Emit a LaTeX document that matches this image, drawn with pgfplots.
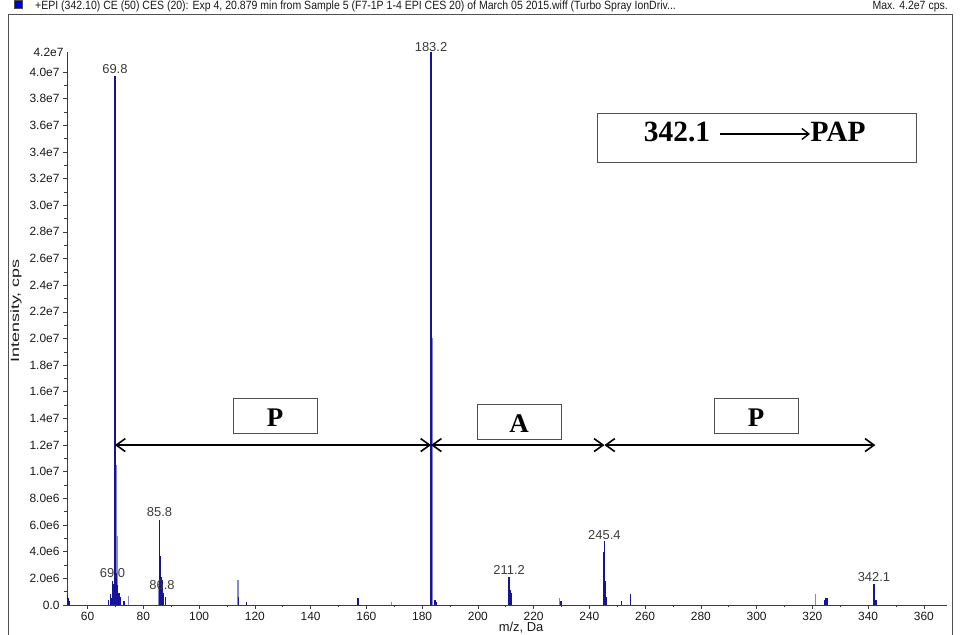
\documentclass[border=0pt]{standalone}
\usepackage{pgfplots}
\pgfplotsset{compat=1.18}
\usepackage{fontspec}
\setmainfont{Liberation Sans}
\newfontfamily\serifb{Liberation Serif}
\newfontfamily\narrow{Liberation Sans}[FakeStretch=0.88]
\newfontfamily\wide{Liberation Sans}[FakeStretch=1.5]
\usetikzlibrary{arrows.meta}
\definecolor{peak}{RGB}{20,20,150}
\definecolor{peaklight}{RGB}{135,135,205}
\definecolor{axgray}{RGB}{60,60,60}
\definecolor{boxgray}{RGB}{80,80,80}
\newcommand{\lbl}{\fontsize{13}{14}\selectfont}

\pgfplotstableread{
mz int
52.7 0.8e6
52.9 0.7e6
53.1 0.5e6
53.3 0.3e6
67.6 0.4e6
68.1 0.8e6
68.6 0.5e6
69.0 1.8e6
69.2 1.6e6
69.8 3.97e7
69.9 3.78e7
70.1 8.5e6
70.4 2.4e6
70.8 1.5e6
71.3 0.9e6
71.8 0.6e6
73.0 0.3e6
85.8 6.4e6
86.0 3.7e6
86.3 2.1e6
86.8 1.9e6
87.2 0.9e6
88.0 0.6e6
114.0 0.6e6
117.0 0.25e6
157.0 0.55e6
183.2 4.15e7
184.6 0.4e6
185.0 0.2e6
211.2 2.1e6
211.6 1.1e6
212.0 0.9e6
229.8 0.3e6
245.0 4.0e6
245.4 4.8e6
245.7 1.8e6
246.0 0.6e6
251.5 0.3e6
254.8 0.8e6
324.3 0.4e6
324.7 0.5e6
325.2 0.5e6
342.1 1.6e6
342.4 0.7e6
342.8 0.4e6
}\darkpeaks

\pgfplotstableread{
mz int
70.2 1.05e7
70.5 5.2e6
74.7 0.7e6
85.4 1.4e6
113.9 1.85e6
169.0 0.25e6
183.5 2.0e7
183.8 1.08e7
210.9 0.6e6
229.2 0.5e6
321.0 0.8e6
}\lightpeaks

\begin{document}
\begin{tikzpicture}[x=1bp,y=1bp]
\useasboundingbox (-67,-30) rectangle (894,605);
% outer frame
\draw[boxgray, line width=0.9bp] (-59,-40) -- (-59,591) -- (885,591) -- (885,-40);
% title line
\fill[blue!85!black] (-53,597) rectangle (-45,605);
\draw[black!70, line width=0.4bp] (-53,597) rectangle (-45,605);
\node[anchor=base west, inner sep=0pt, font=\narrow\fontsize{12}{13}\selectfont, text=black!90] at (-32,595)
  {+EPI (342.10) CE (50) CES (20): Exp 4, 20.879 min from Sample 5 (F7-1P 1-4 EPI CES 20) of March 05 2015.wiff (Turbo Spray IonDriv...};
\node[anchor=base east, inner sep=0pt, font=\narrow\fontsize{12}{13}\selectfont, text=black!90] at (881,595)
  {Max. 4.2e7 cps.};

\begin{axis}[
  at={(0,0)}, anchor=south west,
  scale only axis, width=880bp, height=553bp,
  xmin=52.6, xmax=368.3, ymin=0, ymax=4.15e7,
  clip=false,
  axis x line=bottom, axis y line=left,
  axis line style={-, axgray, line width=0.8bp},
  tick align=outside,
  major tick length=4bp, minor tick length=2.5bp,
  tick style={axgray, line width=0.6bp},
  xtick={60,80,100,120,140,160,180,200,220,240,260,280,300,320,340,360},
  xticklabels={60,80,100,120,140,160,180,200,220,240,260,280,300,320,340,360},
  minor x tick num=1,
  ytick={0,2e6,4e6,6e6,8e6,1e7,1.2e7,1.4e7,1.6e7,1.8e7,2e7,2.2e7,2.4e7,2.6e7,2.8e7,3e7,3.2e7,3.4e7,3.6e7,3.8e7,4e7},
  yticklabels={0.0,2.0e6,4.0e6,6.0e6,8.0e6,1.0e7,1.2e7,1.4e7,1.6e7,1.8e7,2.0e7,2.2e7,2.4e7,2.6e7,2.8e7,3.0e7,3.2e7,3.4e7,3.6e7,3.8e7,4.0e7},
  minor y tick num=1,
  scaled y ticks=false,
  extra y ticks={4.15e7}, extra y tick labels={4.2e7},
  extra y tick style={major tick length=0pt},
  tick label style={font=\fontsize{12}{13}\selectfont, text=black!90},
  xlabel={m/z, Da}, ylabel={Intensity, cps},
  every axis x label/.style={at={(axis description cs:0.516,-0.0416)}, anchor=center, font=\fontsize{13}{14}\selectfont, text=black!90},
  every axis y label/.style={at={(axis description cs:-0.058,0.532)}, anchor=center, rotate=90, font=\wide\fontsize{12}{13}\selectfont, text=black!90},
]
\addplot[ycomb, peaklight, line width=1.3bp, mark=none] table[x=mz, y=int] {\lightpeaks};
\addplot[ycomb, peak, line width=1.3bp, mark=none] table[x=mz, y=int] {\darkpeaks};

\node[font=\lbl, text=axgray] at (axis cs:69.8,4.02e7) {69.8};
\node[font=\lbl, text=axgray] at (axis cs:183.2,4.19e7) {183.2};
\node[font=\lbl, text=axgray] at (axis cs:85.8,6.97e6) {85.8};
\node[font=\lbl, text=axgray] at (axis cs:68.9,2.4e6) {69.0};
\node[font=\lbl, text=axgray] at (axis cs:86.7,1.5e6) {86.8};
\node[font=\lbl, text=axgray] at (axis cs:211.2,2.6e6) {211.2};
\node[font=\lbl, text=axgray] at (axis cs:245.4,5.24e6) {245.4};
\node[font=\lbl, text=axgray] at (axis cs:342.1,2.1e6) {342.1};

\draw[line width=1.6bp, {Straight Barb[length=9bp,width=13bp]}-{Straight Barb[length=9bp,width=13bp]}] (axis cs:69.8,1.2e7) -- (axis cs:183.2,1.2e7);
\draw[line width=1.6bp, {Straight Barb[length=9bp,width=13bp]}-{Straight Barb[length=9bp,width=13bp]}] (axis cs:183.2,1.2e7) -- (axis cs:245.4,1.2e7);
\draw[line width=1.6bp, {Straight Barb[length=9bp,width=13bp]}-{Straight Barb[length=9bp,width=13bp]}] (axis cs:245.4,1.2e7) -- (axis cs:342.6,1.2e7);
\end{axis}

% boxes with letters
\draw[boxgray, line width=0.9bp] (166,172) rectangle (250,207);
\draw[boxgray, line width=0.9bp] (410,166) rectangle (494,201);
\draw[boxgray, line width=0.9bp] (647,172) rectangle (731,207);
\node[anchor=base, inner sep=0pt, font=\serifb\bfseries\fontsize{27}{30}\selectfont] at (208,178) {P};
\node[anchor=base, inner sep=0pt, font=\serifb\bfseries\fontsize{27}{30}\selectfont] at (452,172) {A};
\node[anchor=base, inner sep=0pt, font=\serifb\bfseries\fontsize{27}{30}\selectfont] at (689,178) {P};

% big box
\draw[boxgray, line width=0.9bp] (530,443) rectangle (849,492);
\node[anchor=base, inner sep=0pt, font=\serifb\bfseries\fontsize{29.5}{31}\selectfont] at (610,463) {342.1};
\node[anchor=base, inner sep=0pt, font=\serifb\bfseries\fontsize{29.5}{31}\selectfont] at (771,463) {PAP};
\draw[line width=1.4bp, -{Straight Barb[length=7bp,width=11bp]}] (653,471) -- (743,471);
\end{tikzpicture}
\end{document}
